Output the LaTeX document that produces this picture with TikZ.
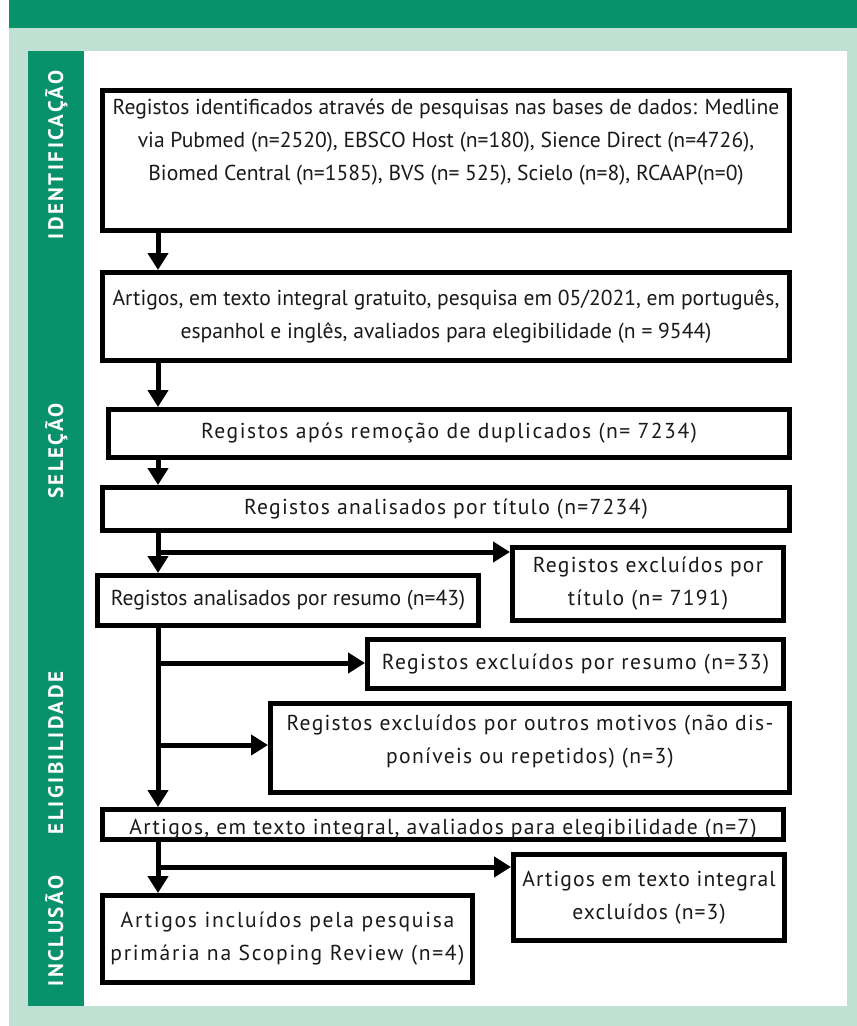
\documentclass[tikz,border=0pt]{standalone}
\usepackage{fontspec}
\setmainfont{PT Sans}
\usetikzlibrary{arrows.meta}
\definecolor{dgreen}{HTML}{08926C}
\definecolor{lgreen}{HTML}{C0E0D4}
\definecolor{ink}{HTML}{1A1A1A}
\newcommand\bx[6]{\node[box, minimum width={#4-#2-5}, minimum height={#5-#3-5}] (#1) at ({(#2+#4)/2},{(#3+#5)/2}) {#6};}
\newcommand\ls[1]{\addfontfeatures{LetterSpace=#1}}
\begin{document}
\begin{tikzpicture}[x=1pt,y=-1pt,
 box/.style={draw=black, line width=5pt, fill=white, inner sep=0pt, align=center, font=\fontsize{21.6}{33}\selectfont, text=ink},
 txt/.style={inner sep=0pt, align=center, font=\fontsize{21.6}{33}\selectfont, text=ink},
 side/.style={rotate=90, anchor=base, text=white, font=\fontsize{21}{24}\selectfont\bfseries\addfontfeatures{LetterSpace=12}},
 flow/.style={line width=5pt, -{Triangle[width=20pt,length=17pt]}},
]
\useasboundingbox (0,0) rectangle (857,1026);
\fill[white] (0,0) rectangle (857,1026);
\fill[lgreen] (9,28) rectangle (857,1026);
\fill[dgreen] (9,0) rectangle (857,28);
\fill[white] (84,51) rectangle (847,1006);
\fill[dgreen] (28,51) rectangle (84,1006);
\node[side] (sideA) at (63,155) {IDENTIFICAÇÃO};
\node[side] (sideB) at (63,451) {SELEÇÃO};
\node[side] (sideC) at (63,753) {ELIGIBILIDADE};
\node[side] (sideD) at (63,931) {INCLUSÃO};
% boxes
\bx{b1}{100}{88}{792}{233}{}
\node[txt] (b1t) at (446,142) {Registos identificados através de pesquisas nas bases de dados: Medline\\via Pubmed (n=2520), EBSCO Host (n=180), Sience Direct (n=4726),\\Biomed Central (n=1585), BVS (n= 525), Scielo (n=8), RCAAP(n=0)};
\bx{b2}{100}{270}{792}{363}{Artigos, em texto integral gratuito, pesquisa em 05/2021, em português,\\espanhol e inglês, avaliados para elegibilidade (n = 9544)}
\bx{b3}{106}{407}{792}{460}{\ls{7}Registos após remoção de duplicados (n= 7234)}
\bx{b4}{100}{485}{792}{533}{\ls{6}Registos analisados por título (n=7234)}
\bx{b5}{95}{573}{481}{628}{Registos analisados por resumo (n=43)}
\bx{b6}{510}{545}{786}{623}{\ls{6}Registos excluídos por\\\ls{6}título (n= 7191)}
\bx{b7a}{365}{637}{786}{691}{\ls{6.5}Registos excluídos por resumo (n=33)}
\bx{b7b}{268}{701}{792}{795}{}
\node[txt] (b7bt) at (530,742) {\ls{6}Registos excluídos por outros motivos (não dis-\\\ls{6}poníveis ou repetidos) (n=3)};
\bx{b8}{100}{807}{786}{842}{}
\node[txt, anchor=base] (b8t) at (443,834) {\ls{6}Artigos, em texto integral, avaliados para elegibilidade (n=7)};
\bx{b9}{100}{893}{475}{985}{\ls{8}Artigos incluídos pela pesquisa\\\ls{8}primária na Scoping Review (n=4)}
\bx{b10}{511}{852}{787}{943}{\ls{5}Artigos em texto integral\\\ls{5}excluídos (n=3)}
% connectors
\coordinate (tr) at (158,0);
\coordinate (ya) at (0,552);
\coordinate (yb) at (0,663);
\coordinate (yc) at (0,745);
\coordinate (yd) at (0,867);
\draw[flow] (b1.south -| tr) -- (b2.north -| tr);
\draw[flow] (b2.south -| tr) -- (b3.north -| tr);
\draw[flow] (b3.south -| tr) -- (b4.north -| tr);
\draw[flow] (b4.south -| tr) -- (b5.north -| tr);
\draw[flow] (tr |- ya) -- (b6.west |- ya);
\draw[flow] (b5.south -| tr) -- (b8.north -| tr);
\draw[flow] (tr |- yb) -- (b7a.west |- yb);
\draw[flow] (tr |- yc) -- (b7b.west |- yc);
\draw[flow] (b8.south -| tr) -- (b9.north -| tr);
\draw[flow] (tr |- yd) -- (b10.west |- yd);
\end{tikzpicture}
\end{document}
